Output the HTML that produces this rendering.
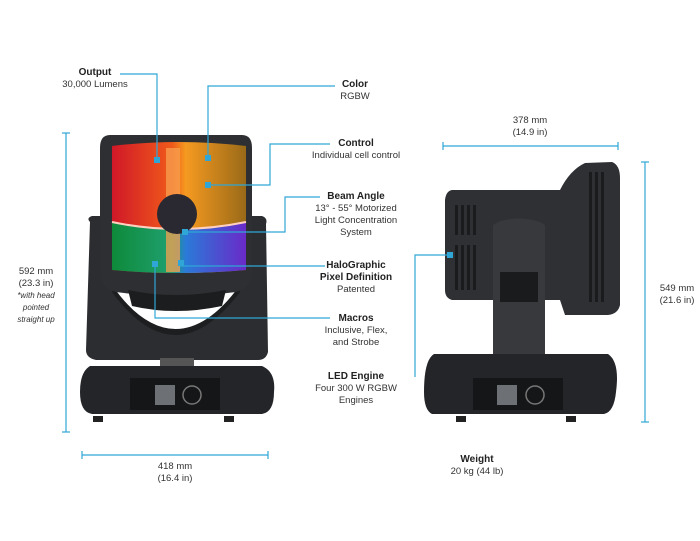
<!DOCTYPE html>
<html><head><meta charset="utf-8"><style>
body{margin:0;width:700px;height:541px;background:#fff;position:relative;overflow:hidden;font-family:"Liberation Sans",sans-serif;color:#333}
.t{position:absolute;text-align:center;font-size:9.5px;line-height:12px;white-space:nowrap;transform:translateX(-50%)}
.t b{font-size:10px;color:#222}
.a{position:absolute}
</style></head><body>
<svg class="a" style="left:0;top:0" width="700" height="541">
<!-- left fixture yoke -->
<path d="M90 222 Q86 218 92 216 L112 216 L112 285 Q175 375 240 285 L240 216 L262 216 Q268 218 266 224 L268 352 Q266 360 258 360 L96 360 Q86 358 86 350 Z" fill="#2c2d30"/>
<path d="M112 292 Q175 378 240 292 L240 286 Q175 372 112 286Z" fill="#1d1e20"/>
<rect x="160" y="358" width="34" height="8" fill="#555"/>
<!-- base -->
<path d="M90 366 L262 366 Q276 372 274 392 Q274 412 262 414 L92 414 Q80 412 80 392 Q80 372 90 366Z" fill="#242528"/>
<rect x="130" y="378" width="90" height="32" fill="#151617"/>
<rect x="155" y="385" width="20" height="20" fill="#6d7074"/>
<circle cx="192" cy="395" r="9" fill="none" stroke="#777" stroke-width="1.5"/>
<rect x="93" y="416" width="10" height="6" fill="#222"/><rect x="224" y="416" width="10" height="6" fill="#222"/>
<!-- head -->
<path d="M110 135 L242 135 Q252 135 252 148 L252 272 Q252 288 236 292 Q175 300 116 292 Q100 288 100 272 L100 148 Q100 135 110 135Z" fill="#2e2f32"/>
<path d="M128 290 Q175 300 226 290 L222 306 Q175 316 132 306Z" fill="#1c1d1f"/>
<defs>
<linearGradient id="g1" x1="0" y1="0" x2="1" y2="0"><stop offset="0" stop-color="#d01828"/><stop offset=".45" stop-color="#f05a1a"/><stop offset=".55" stop-color="#f59a20"/><stop offset="1" stop-color="#9a6a18"/></linearGradient>
<linearGradient id="g2" x1="0" y1="0" x2="1" y2="0"><stop offset="0" stop-color="#0e8a3a"/><stop offset=".45" stop-color="#20a070"/><stop offset=".55" stop-color="#2a7ad8"/><stop offset="1" stop-color="#6a2ac8"/></linearGradient>
</defs>
<path d="M112 146 Q178 138 246 146 L246 270 Q178 276 112 270Z" fill="url(#g1)"/>
<path d="M112 222 Q178 236 246 222 L246 270 Q178 276 112 270Z" fill="url(#g2)"/>
<rect x="166" y="148" width="14" height="124" fill="#f7a050" opacity=".75"/>
<path d="M112 222 Q178 236 246 222" stroke="#ffd0c0" stroke-width="2" fill="none"/>
<circle cx="177" cy="214" r="20" fill="#2a2830"/>
<!-- right fixture -->
<path d="M452 190 L560 190 Q570 170 585 163 L612 162 Q620 165 620 178 L620 305 Q618 314 608 315 L565 315 L560 300 L452 300 Q445 298 445 290 L445 200 Q446 191 452 190Z" fill="#2f3034"/>
<g fill="#1a1b1d"><rect x="455" y="205" width="3" height="30"/><rect x="461" y="205" width="3" height="30"/><rect x="467" y="205" width="3" height="30"/><rect x="473" y="205" width="3" height="30"/>
<rect x="455" y="245" width="3" height="45"/><rect x="461" y="245" width="3" height="45"/><rect x="467" y="245" width="3" height="45"/><rect x="473" y="245" width="3" height="45"/>
<rect x="589" y="172" width="3" height="130"/><rect x="595" y="172" width="3" height="130"/><rect x="601" y="172" width="3" height="130"/></g>
<path d="M498 222 Q518 215 540 222 L545 225 L545 368 L493 368 L493 225Z" fill="#38393d"/>
<rect x="500" y="272" width="38" height="30" fill="#1a1b1d"/>
<path d="M434 354 L608 354 Q620 362 616 392 Q614 412 604 414 L432 414 Q424 410 424 392 Q424 360 434 354Z" fill="#242528"/>
<rect x="473" y="378" width="90" height="32" fill="#151617"/>
<rect x="497" y="385" width="20" height="20" fill="#6d7074"/>
<circle cx="535" cy="395" r="9" fill="none" stroke="#777" stroke-width="1.5"/>
<rect x="456" y="416" width="10" height="6" fill="#222"/><rect x="566" y="416" width="10" height="6" fill="#222"/>
<!-- callouts -->
<g stroke="#2fa6d6" stroke-width="1.2" fill="none">
<polyline points="120,74 157,74 157,160"/>
<polyline points="335,86 208,86 208,158"/>
<polyline points="330,144 270,144 270,185 208,185"/>
<polyline points="320,197 285,197 285,232 185,232"/>
<polyline points="325,266 181,266 181,262"/>
<polyline points="330,318 155,318 155,264"/>
<polyline points="415,377 415,255 449,255"/>
<line x1="66" y1="133" x2="66" y2="432"/><line x1="62" y1="133" x2="70" y2="133"/><line x1="62" y1="432" x2="70" y2="432"/>
<line x1="82" y1="455" x2="268" y2="455"/><line x1="82" y1="451" x2="82" y2="459"/><line x1="268" y1="451" x2="268" y2="459"/>
<line x1="443" y1="146" x2="618" y2="146"/><line x1="443" y1="142" x2="443" y2="150"/><line x1="618" y1="142" x2="618" y2="150"/>
<line x1="645" y1="162" x2="645" y2="422"/><line x1="641" y1="162" x2="649" y2="162"/><line x1="641" y1="422" x2="649" y2="422"/>
</g>
<g fill="#2fa6d6"><rect x="154" y="157" width="6" height="6"/><rect x="205" y="155" width="6" height="6"/><rect x="205" y="182" width="6" height="6"/><rect x="182" y="229" width="6" height="6"/><rect x="178" y="260" width="6" height="6"/><rect x="152" y="261" width="6" height="6"/><rect x="447" y="252" width="6" height="6"/></g>
</svg>
<div class="t" style="left:95px;top:67px"><b>Output</b><br>30,000 Lumens</div>
<div class="t" style="left:355px;top:79px"><b>Color</b><br>RGBW</div>
<div class="t" style="left:356px;top:138px"><b>Control</b><br>Individual cell control</div>
<div class="t" style="left:356px;top:191px"><b>Beam Angle</b><br>13° - 55° Motorized<br>Light Concentration<br>System</div>
<div class="t" style="left:356px;top:260px"><b>HaloGraphic<br>Pixel Definition</b><br>Patented</div>
<div class="t" style="left:356px;top:313px"><b>Macros</b><br>Inclusive, Flex,<br>and Strobe</div>
<div class="t" style="left:356px;top:371px"><b>LED Engine</b><br>Four 300 W RGBW<br>Engines</div>
<div class="t" style="left:36px;top:266px">592 mm<br>(23.3 in)<br><i style="font-size:8px;line-height:10px">*with head<br>pointed<br>straight up</i></div>
<div class="t" style="left:175px;top:461px">418 mm<br>(16.4 in)</div>
<div class="t" style="left:530px;top:115px">378 mm<br>(14.9 in)</div>
<div class="t" style="left:677px;top:283px">549 mm<br>(21.6 in)</div>
<div class="t" style="left:477px;top:454px"><b>Weight</b><br>20 kg (44 lb)</div>
</body></html>
